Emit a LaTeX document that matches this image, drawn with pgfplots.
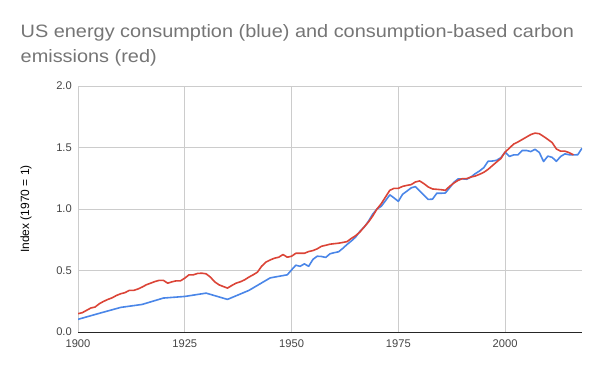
\documentclass[border=0pt]{standalone}
\usepackage{fontspec}
\setmainfont{Liberation Sans}
\newfontfamily\titlefont[FakeStretch=1.11]{Liberation Sans}
\usepackage{pgfplots}
\pgfplotsset{compat=1.18}
\definecolor{gblue}{HTML}{4A86E8}
\definecolor{gred}{HTML}{DB4437}
\definecolor{titlegray}{HTML}{757575}
\definecolor{gridgray}{HTML}{CCCCCC}
\definecolor{labelgray}{HTML}{444444}
\begin{document}
\begin{tikzpicture}
\path[use as bounding box] (0,0) rectangle (600bp,371bp);
\node[anchor=base west, text=titlegray, font=\titlefont\fontsize{18}{21}\selectfont, inner sep=0pt] at (20.5bp,333bp) {US energy consumption (blue) and consumption-based carbon};
\node[anchor=base west, text=titlegray, font=\titlefont\fontsize{18}{21}\selectfont, inner sep=0pt] at (20.5bp,308bp) {emissions (red)};
\begin{axis}[
  at={(78bp,39bp)}, anchor=south west,
  width=504bp, height=246bp, scale only axis,
  xmin=1900, xmax=2018, ymin=0, ymax=2,
  xtick={1900,1925,1950,1975,2000},
  ytick={0,0.5,1,1.5,2},
  grid=major, grid style={gridgray, line width=0.7bp},
  separate axis lines,
  axis x line*=bottom, x axis line style={draw=black!85, line width=0.9bp, -},
  axis y line*=left, y axis line style={draw=none},
  major tick length=0pt, tick style={draw=none},
  tick label style={font=\fontsize{11.2}{13}\selectfont, text=labelgray, inner sep=0pt},
  y tick label style={anchor=east, xshift=-6bp},
  x tick label style={anchor=north, yshift=-8bp},
  /pgf/number format/assume math mode=true,
  xticklabel style={/pgf/number format/1000 sep={}},
  yticklabel style={/pgf/number format/.cd, fixed, fixed zerofill, precision=1},
  ylabel={Index (1970 = 1)},
  ylabel style={at={(axis description cs:-0.103,0.5)}, anchor=center, rotate=0, font=\fontsize{12}{14}\selectfont, text=black},
]
\addplot[gblue, line width=1.6bp, line join=round] coordinates {
(1900,0.103)(1905,0.152)(1910,0.200)(1915,0.224)(1920,0.276)(1925,0.289)(1930,0.316)(1935,0.265)(1940,0.338)(1945,0.440)(1949,0.465)
(1950,0.505)(1951,0.543)(1952,0.534)(1953,0.554)(1954,0.534)(1955,0.590)(1956,0.616)(1957,0.614)(1958,0.606)(1959,0.636)
(1960,0.645)(1961,0.652)(1962,0.680)(1963,0.712)(1964,0.740)(1965,0.772)(1966,0.818)(1967,0.852)(1968,0.900)(1969,0.958)
(1970,1.000)(1971,1.022)(1972,1.068)(1973,1.115)(1974,1.090)(1975,1.062)(1976,1.120)(1977,1.145)(1978,1.172)(1979,1.182)
(1980,1.146)(1981,1.112)(1982,1.078)(1983,1.080)(1984,1.128)(1985,1.128)(1986,1.130)(1987,1.172)(1988,1.217)(1989,1.245)
(1990,1.245)(1991,1.242)(1992,1.260)(1993,1.287)(1994,1.309)(1995,1.336)(1996,1.388)(1997,1.390)(1998,1.396)(1999,1.417)
(2000,1.463)(2001,1.427)(2002,1.440)(2003,1.440)(2004,1.476)(2005,1.476)(2006,1.467)(2007,1.485)(2008,1.460)(2009,1.386)
(2010,1.430)(2011,1.420)(2012,1.388)(2013,1.427)(2014,1.448)(2015,1.441)(2016,1.440)(2017,1.441)(2018,1.494)
};
\addplot[gred, line width=1.6bp, line join=round] coordinates {
(1900,0.149)(1901,0.157)(1902,0.176)(1903,0.195)(1904,0.203)(1905,0.230)(1906,0.249)(1907,0.265)(1908,0.278)(1909,0.297)
(1910,0.311)(1911,0.320)(1912,0.338)(1913,0.338)(1914,0.349)(1915,0.365)(1916,0.384)(1917,0.397)(1918,0.410)(1919,0.420)
(1920,0.420)(1921,0.397)(1922,0.408)(1923,0.416)(1924,0.416)(1925,0.438)(1926,0.465)(1927,0.465)(1928,0.476)(1929,0.478)
(1930,0.473)(1931,0.446)(1932,0.408)(1933,0.384)(1934,0.370)(1935,0.357)(1936,0.378)(1937,0.397)(1938,0.408)(1939,0.424)
(1940,0.446)(1941,0.465)(1942,0.486)(1943,0.535)(1944,0.568)(1945,0.586)(1946,0.600)(1947,0.608)(1948,0.630)(1949,0.608)
(1950,0.616)(1951,0.640)(1952,0.640)(1953,0.640)(1954,0.654)(1955,0.662)(1956,0.676)(1957,0.697)(1958,0.705)(1959,0.714)
(1960,0.718)(1961,0.722)(1962,0.728)(1963,0.735)(1964,0.761)(1965,0.783)(1966,0.813)(1967,0.854)(1968,0.894)(1969,0.943)
(1970,1.000)(1971,1.043)(1972,1.098)(1973,1.152)(1974,1.168)(1975,1.168)(1976,1.184)(1977,1.192)(1978,1.198)(1979,1.220)
(1980,1.228)(1981,1.206)(1982,1.179)(1983,1.163)(1984,1.160)(1985,1.157)(1986,1.152)(1987,1.184)(1988,1.211)(1989,1.233)
(1990,1.247)(1991,1.247)(1992,1.260)(1993,1.268)(1994,1.282)(1995,1.298)(1996,1.322)(1997,1.352)(1998,1.382)(1999,1.410)
(2000,1.463)(2001,1.495)(2002,1.528)(2003,1.545)(2004,1.565)(2005,1.585)(2006,1.605)(2007,1.617)(2008,1.612)(2009,1.590)
(2010,1.566)(2011,1.540)(2012,1.488)(2013,1.470)(2014,1.470)(2015,1.458)(2016,1.440)
};
\end{axis}
\end{tikzpicture}
\end{document}
